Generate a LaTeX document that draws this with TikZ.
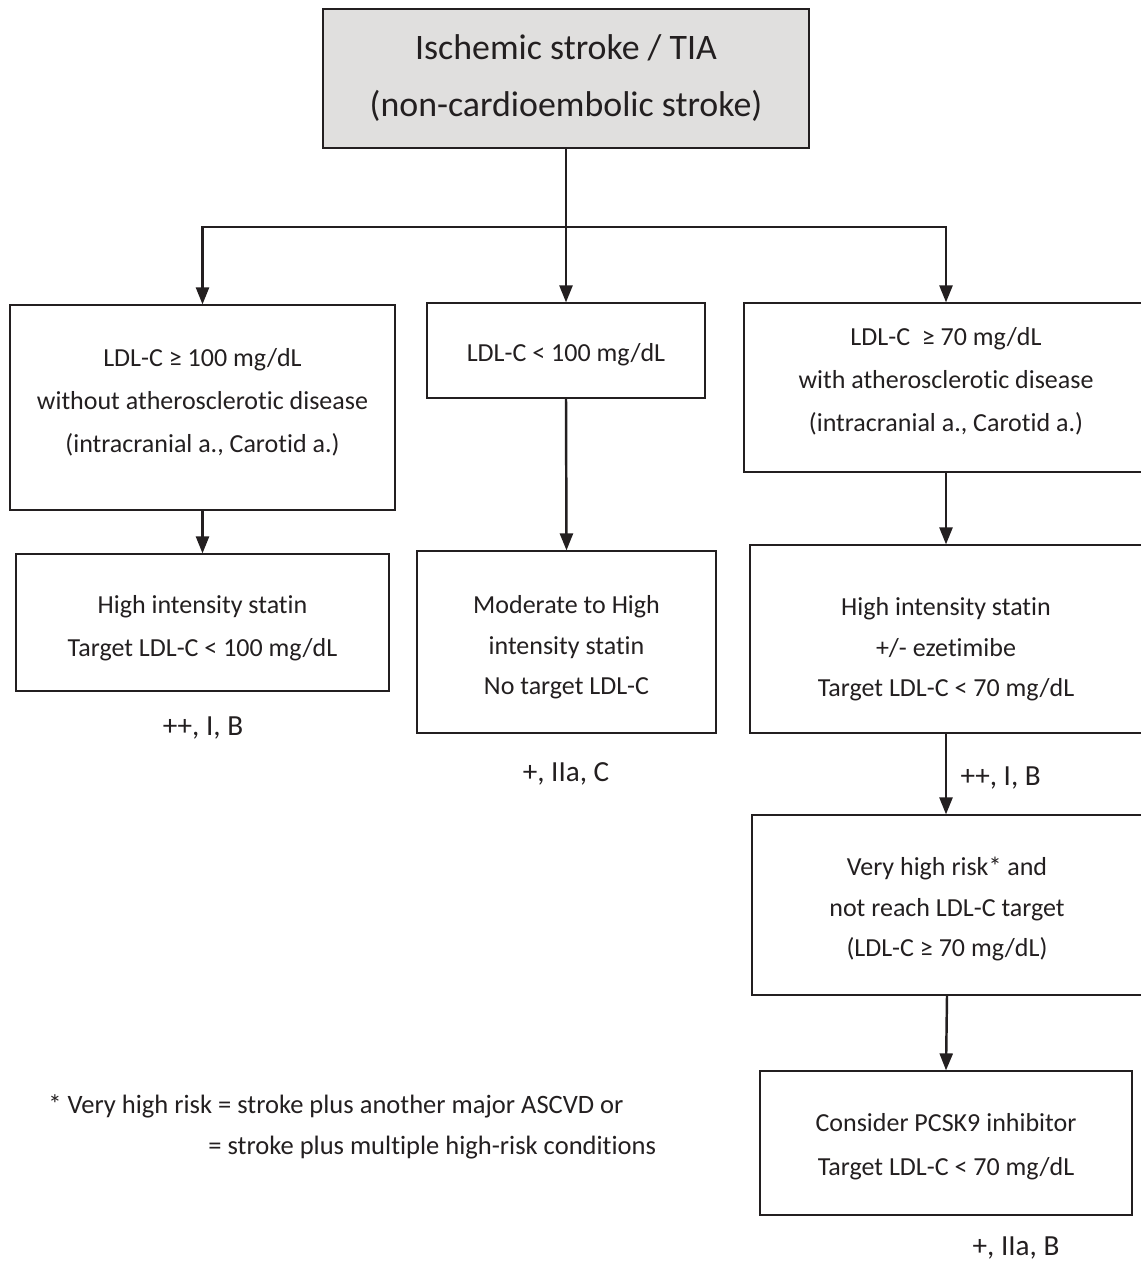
\documentclass[tikz,border=0pt]{standalone}
\usepackage{fontspec}
\setmainfont{Carlito}[Ligatures={NoCommon}]
\usepackage{xcolor}
\usetikzlibrary{arrows.meta,positioning}

\definecolor{hdrgray}{RGB}{224,223,222}
\definecolor{ink}{RGB}{35,31,32}
% struts to nudge text inside a box
\newcommand{\padtop}[1]{\rule{0pt}{#1}}
\newcommand{\padbot}[1]{\rule[-#1]{0pt}{0pt}}

\begin{document}
\begin{tikzpicture}[
  x=0.02cm, y=-0.02cm,
  blk/.style={draw=ink, line width=0.7pt, align=center, inner sep=0pt, text=ink,
    font=\fontsize{14.8}{24.5}\selectfont},
  hdr/.style={blk, fill=hdrgray, font=\fontsize{20.4}{32.4}\selectfont},
  arr/.style={-{Triangle[length=3.4mm,width=2.6mm]}, line width=1.4pt, draw=ink},
  conn/.style={line width=1.4pt, draw=ink},
  lbl/.style={font=\fontsize{16.6}{24.5}\selectfont, text=ink},
  note/.style={font=\fontsize{15.1}{24.5}\selectfont, text=ink, anchor=west, inner sep=0pt}
]
  \useasboundingbox (0,0) rectangle (1140,1263);

  % ── top box ──
  \node[hdr, minimum width=9.72cm, minimum height=2.78cm] (stroke) at (566,78.5)
    {Ischemic stroke / TIA\\(non-cardioembolic stroke)};
  \coordinate (split) at (566,227);

  % ── first row ──
  \node[blk, minimum width=7.7cm, minimum height=4.1cm] (ldlA) at (202.5,407.5)
    {LDL-C ≥ 100 mg/dL\\without atherosclerotic disease\\(intracranial a., Carotid a.)\padbot{8pt}};
  \node[blk, minimum width=5.56cm, minimum height=1.9cm] (ldlB) at (566,350.5)
    {\padtop{15.5pt}LDL-C < 100 mg/dL};
  \node[blk, minimum width=8.08cm, minimum height=3.38cm] (ldlC) at (946,387.5)
    {LDL-C \ ≥ 70 mg/dL\\with atherosclerotic disease\\(intracranial a., Carotid a.)\padbot{9pt}};

  % ── second row ──
  \node[blk, minimum width=7.46cm, minimum height=2.74cm] (statA) at (202.5,622.5)
    {\padtop{16.5pt}High intensity statin\\Target LDL-C < 100 mg/dL};
  \node[blk, minimum width=5.98cm, minimum height=3.64cm] (statB) at (566.5,642)
    {\padtop{16.5pt}Moderate to High\\[-1.5pt]intensity statin\\[-1.5pt]No target LDL-C};
  \node[blk, minimum width=7.84cm, minimum height=3.76cm] (statC) at (946,639)
    {\padtop{22pt}High intensity statin\\[-1.5pt]+/- ezetimibe\\[-1.5pt]Target LDL-C < 70 mg/dL};

  % ── right column ──
  \node[blk, minimum width=7.8cm, minimum height=3.6cm] (vhr) at (947,905)
    {\padtop{15.5pt}Very high risk* and\\[-1.5pt]not reach LDL-C target\\[-1.5pt](LDL-C ≥ 70 mg/dL)};
  \node[blk, minimum width=7.44cm, minimum height=2.88cm] (pcsk) at (946,1143)
    {\padtop{14.5pt}Consider PCSK9 inhibitor\\Target LDL-C < 70 mg/dL};

  % evidence levels
  \node[lbl] (evA) at (203,728) {++, I, B};
  \node[lbl] (evB) at (566,774) {+, IIa, C};
  \node[lbl] (evD) at (1016,1248) {+, IIa, B};

  % footnote
  \node[note] (fn1) at (48,1106) {* Very high risk = stroke plus another major ASCVD or};
  \node[note] (fn2) at (208,1148) {= stroke plus multiple high-risk conditions};

  % connectors
  \draw[conn] (stroke.south) -- (split);
  \draw[arr] (split) -| (ldlA.north);
  \draw[arr] (split) -- (ldlB.north);
  \draw[arr] (split) -| (ldlC.north);
  \draw[arr] (ldlA.south) -- (statA.north);
  \draw[arr] (ldlB.south) -- (statB.north);
  \draw[arr] (ldlC.south) -- (statC.north);
  \draw[arr] (statC.south) -- (statC.south |- vhr.north)
    node[lbl, midway, right=1.5mm, yshift=-2pt] (evC) {++, I, B};
  \draw[arr] (vhr.south) -- (pcsk.north);
\end{tikzpicture}
\end{document}
